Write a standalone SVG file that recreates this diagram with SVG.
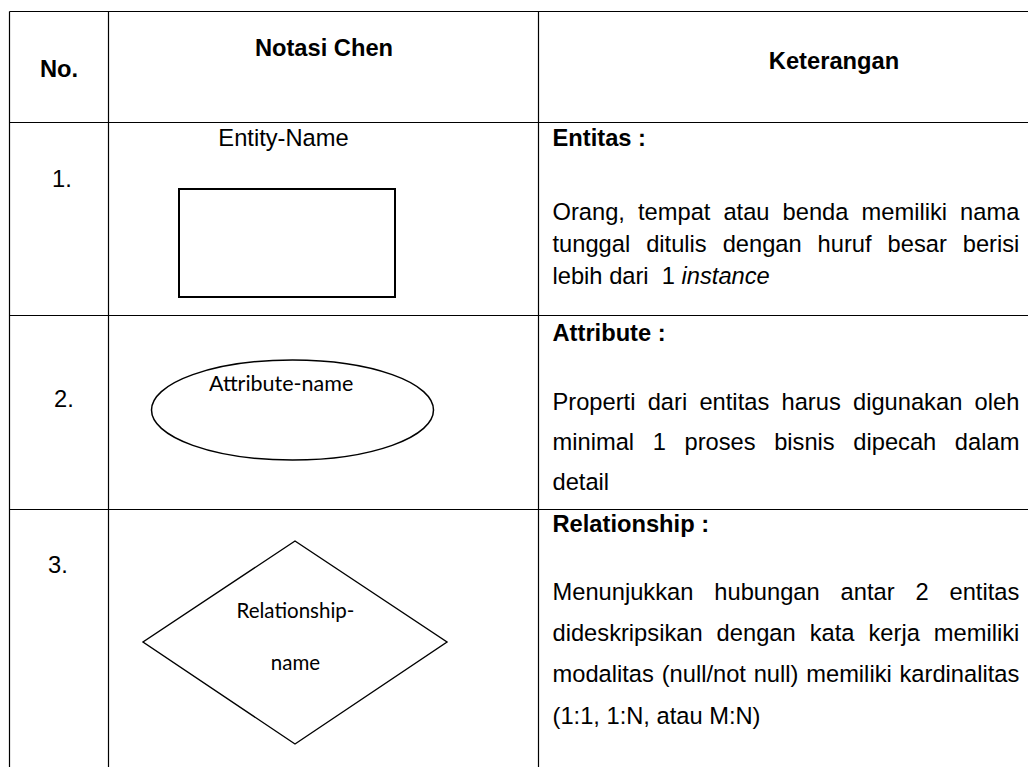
<svg xmlns="http://www.w3.org/2000/svg" width="1028" height="767" viewBox="0 0 1028 767">
  <style>
    .grid { stroke: #000; stroke-width: 1.2; fill: none; }
    .shape { stroke: #000; fill: #fff; }
    .t { font-family: "Liberation Sans", Arial, sans-serif; font-size: 23.7px; fill: #000; }
    .b { font-weight: bold; }
    .c { text-anchor: middle; }
    .cal { font-family: Lato, "Open Sans", sans-serif; font-size: 21.5px; fill: #000; }
    .cal-s { font-size: 20.5px; }
  </style>

  <rect width="1028" height="767" fill="#fff"/>

  <!-- table rules: no right or bottom border inside the frame -->
  <g id="grid" class="grid">
    <line x1="9.5" y1="11.5" x2="1028" y2="11.5"/>
    <line x1="9.5" y1="122.5" x2="1028" y2="122.5"/>
    <line x1="9.5" y1="315.5" x2="1028" y2="315.5"/>
    <line x1="9.5" y1="509.5" x2="1028" y2="509.5"/>
    <line x1="9.5" y1="11.5" x2="9.5" y2="767"/>
    <line x1="108.5" y1="11.5" x2="108.5" y2="767"/>
    <line x1="538.5" y1="11.5" x2="538.5" y2="767"/>
  </g>

  <g id="header">
    <text class="t b c" x="59" y="77">No.</text>
    <text class="t b c" x="324" y="56">Notasi Chen</text>
    <text class="t b c" x="834" y="69">Keterangan</text>
  </g>

  <!-- row 1: entity -->
  <g id="row-entity">
    <text class="t" x="52" y="187">1.</text>
    <g id="entity-shape">
      <text class="t c" x="283.5" y="146">Entity-Name</text>
      <rect class="shape" x="179" y="189" width="216" height="108" stroke-width="2"/>
    </g>
    <text class="t b" x="552.5" y="146">Entitas :</text>
    <text class="t" x="552.5" y="220" word-spacing="6.47">Orang, tempat atau benda memiliki nama</text>
    <text class="t" x="552.5" y="252" word-spacing="9.35">tunggal ditulis dengan huruf besar berisi</text>
    <text class="t" x="552.5" y="284" xml:space="preserve">lebih dari  1 <tspan font-style="italic">instance</tspan></text>
  </g>

  <!-- row 2: attribute -->
  <g id="row-attribute">
    <text class="t" x="54" y="407">2.</text>
    <g id="attribute-shape">
      <ellipse class="shape" cx="292.5" cy="410" rx="141" ry="50" stroke-width="1.5"/>
      <text class="cal" x="209" y="391">Attribute-name</text>
    </g>
    <text class="t b" x="552.5" y="341">Attribute :</text>
    <text class="t" x="552.5" y="410" word-spacing="5.67">Properti dari entitas harus digunakan oleh</text>
    <text class="t" x="552.5" y="450" word-spacing="12.01">minimal 1 proses bisnis dipecah dalam</text>
    <text class="t" x="552.5" y="490">detail</text>
  </g>

  <!-- row 3: relationship -->
  <g id="row-relationship">
    <text class="t" x="48" y="573">3.</text>
    <g id="relationship-shape">
      <polygon class="shape" points="295,541 447,642 295,744 143,642" stroke-width="1.4"/>
      <text class="cal cal-s c" x="295.5" y="618">Relationship-</text>
      <text class="cal cal-s c" x="295.5" y="670">name</text>
    </g>
    <text class="t b" x="552.5" y="532">Relationship :</text>
    <text class="t" x="552.5" y="600" word-spacing="14.31">Menunjukkan hubungan antar 2 entitas</text>
    <text class="t" x="552.5" y="641" word-spacing="7.44">dideskripsikan dengan kata kerja memiliki</text>
    <text class="t" x="552.5" y="682" word-spacing="1.19">modalitas (null/not null) memiliki kardinalitas</text>
    <text class="t" x="552.5" y="724">(1:1, 1:N, atau M:N)</text>
  </g>
</svg>
